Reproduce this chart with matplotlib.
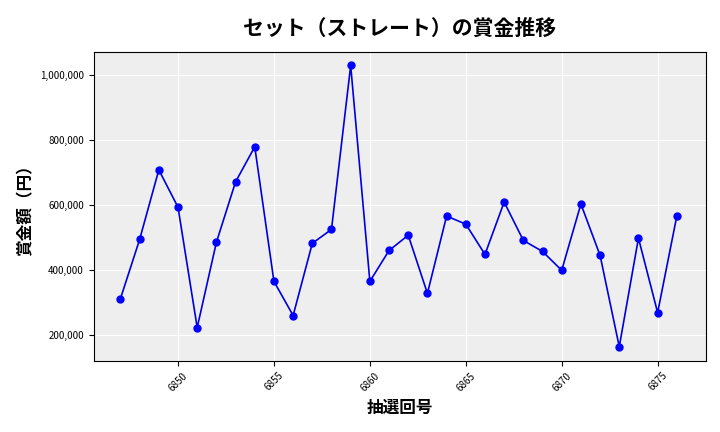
import matplotlib
matplotlib.use("Agg")
import matplotlib.pyplot as plt
from matplotlib.ticker import FuncFormatter

plt.rcParams['font.family'] = ['Noto Sans CJK JP', 'DejaVu Sans']

draws = list(range(6847, 6877))
prizes = [311000, 493000, 707000, 592000, 222000, 484000, 670000, 778000, 364000, 259000,
          481000, 524000, 1028000, 364000, 459000, 506000, 327000, 565000, 540000, 447000,
          608000, 490000, 456000, 398000, 602000, 444000, 163000, 497000, 268000, 565000]

fig, ax = plt.subplots(figsize=(7.2, 4.32), dpi=100)
ax.set_facecolor('#eeeeee')
ax.grid(True, color='white', linewidth=0.8)
ax.set_axisbelow(True)
ax.plot(draws, prizes, color='#0000dd', marker='o', markersize=5, linewidth=1.2,
        markerfacecolor='blue', markeredgecolor='blue')
ax.set_title('セット（ストレート）の賞金推移', fontsize=15, fontweight='bold', pad=12)
ax.set_xlabel('抽選回号', fontsize=12, fontweight='bold')
ax.set_ylabel('賞金額（円）', fontsize=12, fontweight='bold')
ax.set_xticks([6850, 6855, 6860, 6865, 6870, 6875])
ax.tick_params(axis='x', labelrotation=45, labelsize=7)
ax.tick_params(axis='y', labelsize=7)
ax.yaxis.set_major_formatter(FuncFormatter(lambda v, p: f'{int(v):,}'))
ax.set_xlim(6845.6, 6877.5)
ax.set_ylim(120000, 1070000)
plt.subplots_adjust(left=0.13, right=0.98, top=0.88, bottom=0.165)
fig.savefig('out.png', dpi=100)
